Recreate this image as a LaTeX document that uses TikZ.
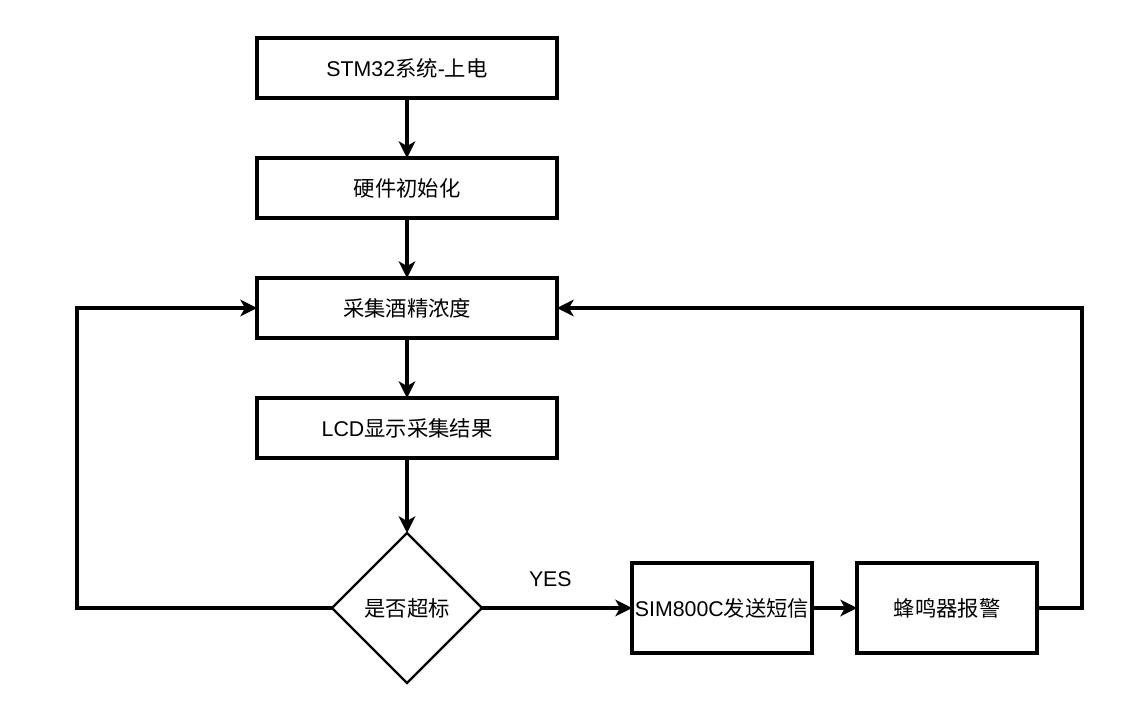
\documentclass[tikz,border=0pt]{standalone}
\usepackage{fontspec}
\setmainfont{Liberation Sans}
\newfontfamily\cjk{Noto Sans CJK SC}
\usepackage{tikz}
\usetikzlibrary{arrows.meta,positioning,shapes.geometric}

\begin{document}
\begin{tikzpicture}[
  node distance=45pt and 112.5pt,
  box/.style={draw, line width=2.4pt, outer sep=0pt, minimum height=45pt, minimum width=225pt, align=center, font=\fontsize{16}{19}\selectfont},
  sbox/.style={box, inner sep=0.5pt, minimum width=135pt, minimum height=67.5pt},
  judge/.style={draw, diamond, aspect=1, line width=1.7pt, outer sep=0pt, minimum width=112.5pt, minimum height=112.5pt, inner sep=0pt, font=\fontsize{16}{19}\selectfont},
  arr/.style={-{Stealth[length=12.5pt, width=12.5pt, inset=3.5pt]}, line width=2.4pt}
]
  \useasboundingbox (0,0) rectangle (847.5pt,-530.25pt);

  \node[box] (power) at (305.25pt,-51pt) {STM32{\cjk 系统}-{\cjk 上电}};
  \node[box, below=of power] (init) {\cjk 硬件初始化};
  \node[box, below=of init] (sample) {\cjk 采集酒精浓度};
  \node[box, below=of sample] (lcd) {LCD{\cjk 显示采集结果}};
  \node[judge, below=56.25pt of lcd] (over) {\cjk 是否超标};
  \node[sbox, right=112.5pt of over] (sms) {SIM800C{\cjk 发送短信}};
  \node[sbox, right=33.75pt of sms] (buzz) {\cjk 蜂鸣器报警};

  \draw[arr] (power) -- (init);
  \draw[arr] (init) -- (sample);
  \draw[arr] (sample) -- (lcd);
  \draw[arr] (lcd) -- (over);
  \draw[arr] (over) -- node[above=11.5pt, xshift=-5pt, font=\fontsize{16}{19}\selectfont] {YES} (sms);
  \draw[arr] (sms) -- (buzz);
  % back to sampling
  \draw[arr] (over.west) -- ++(-191.25pt,0) |- (sample.west);
  \draw[arr] (buzz.east) -- ++(33.75pt,0) |- (sample.east);
\end{tikzpicture}
\end{document}
